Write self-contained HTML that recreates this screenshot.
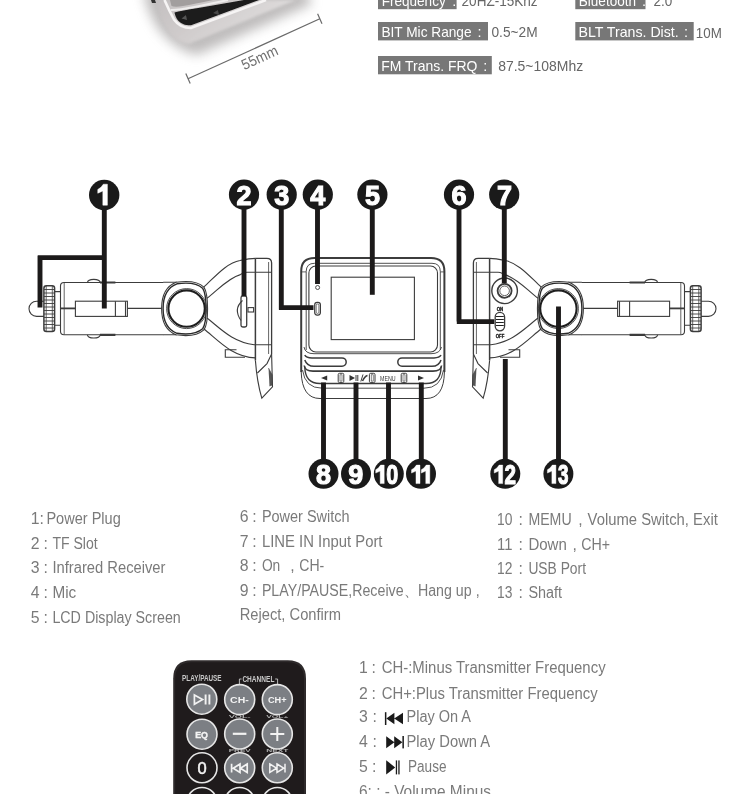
<!DOCTYPE html>
<html><head><meta charset="utf-8">
<style>
html,body{margin:0;padding:0;background:#fff;}
body{width:750px;height:794px;overflow:hidden;position:relative;font-family:"Liberation Sans",sans-serif;}
svg{position:absolute;left:0;top:0;will-change:transform;}
</style></head>
<body>
<svg width="750" height="794" viewBox="0 0 750 794" font-family="Liberation Sans, sans-serif">
<defs>
  <filter id="blur4" x="-50%" y="-50%" width="200%" height="200%"><feGaussianBlur stdDeviation="5"/></filter>
  <filter id="blur1" x="-20%" y="-20%" width="140%" height="140%"><feGaussianBlur stdDeviation="0.6"/></filter>
</defs>

<!-- ===== SPEC LABELS ===== -->
<g id="specs">
  <rect x="378" y="-8.5" width="78.6" height="17.7" fill="#777"/>
  <text x="381.7" y="6.3" font-size="14.5" fill="#fff" textLength="64.0" lengthAdjust="spacingAndGlyphs">Frequency</text>
  <text x="452.2" y="6.3" font-size="14.5" fill="#fff">:</text>
  <text x="461.6" y="6.3" font-size="14.5" fill="#666" textLength="76.0" lengthAdjust="spacingAndGlyphs">20HZ-15Khz</text>
  <rect x="575.3" y="-8.5" width="70.2" height="17.7" fill="#777"/>
  <text x="578.8" y="6.3" font-size="14.5" fill="#fff" textLength="57.2" lengthAdjust="spacingAndGlyphs">Bluetooth</text>
  <text x="641.9" y="6.3" font-size="14.5" fill="#fff">:</text>
  <text x="653.6" y="6.3" font-size="14.5" fill="#666" textLength="18.8" lengthAdjust="spacingAndGlyphs">2.0</text>
  <rect x="378" y="22" width="110" height="18.4" fill="#777"/>
  <text x="381.4" y="37" font-size="14.5" fill="#fff" textLength="90.2" lengthAdjust="spacingAndGlyphs">BIT Mic Range</text>
  <text x="477.5" y="37" font-size="14.5" fill="#fff">:</text>
  <text x="491.5" y="37" font-size="14.5" fill="#666" textLength="46.1" lengthAdjust="spacingAndGlyphs">0.5~2M</text>
  <rect x="575.3" y="22" width="118.4" height="18.4" fill="#777"/>
  <text x="578.5" y="37" font-size="14.5" fill="#fff" textLength="100.2" lengthAdjust="spacingAndGlyphs">BLT Trans. Dist.</text>
  <text x="684.1" y="37" font-size="14.5" fill="#fff">:</text>
  <text x="695.8" y="37.6" font-size="14.5" fill="#666" textLength="26.0" lengthAdjust="spacingAndGlyphs">10M</text>
  <rect x="378" y="56" width="113.8" height="18.3" fill="#777"/>
  <text x="381.3" y="71" font-size="14.5" fill="#fff" textLength="96.2" lengthAdjust="spacingAndGlyphs">FM Trans. FRQ</text>
  <text x="483.2" y="71" font-size="14.5" fill="#fff">:</text>
  <text x="498.2" y="71" font-size="14.5" fill="#666" textLength="85.0" lengthAdjust="spacingAndGlyphs">87.5~108Mhz</text>
</g>

<!-- ===== PHOTO ===== -->
<g id="photo">
  <defs>
    <linearGradient id="bodyG" x1="0" y1="0" x2="1" y2="0.4">
      <stop offset="0" stop-color="#c4c0c1"/>
      <stop offset="0.4" stop-color="#cfcbcb"/>
      <stop offset="1" stop-color="#e2e0e0"/>
    </linearGradient>
    <filter id="shadowF" x="-30%" y="-80%" width="160%" height="260%"><feGaussianBlur stdDeviation="6"/></filter>
    <filter id="soft" x="-10%" y="-10%" width="120%" height="120%"><feGaussianBlur stdDeviation="0.7"/></filter>
    <filter id="bodyBlur" x="-10%" y="-20%" width="120%" height="140%"><feGaussianBlur stdDeviation="1.6"/></filter>
  </defs>
  <path d="M143 -10 C 148 20, 166 48, 197 55 L 312 4 L 306 -10 Z" fill="#8a8686" opacity="0.55" filter="url(#shadowF)"/>
  <path d="M156 0 C 159 14, 163 26, 171 34.5 Q 178 43 189 44 L 296 0 Z" fill="url(#bodyG)" filter="url(#bodyBlur)"/>
  <g filter="url(#soft)">
  <path d="M151 0 L155 0 L156 3 L152 3 Z" fill="#333"/>
  <path d="M164.5 0 C 168 8, 171 14, 174 19.5 Q 180 28 191 28 L 266 0" fill="none" stroke="#f6f4f4" stroke-width="2.6"/>
  <path d="M174.5 12.5 Q 176 20 181 23 Q 185.5 26 191 25.2 L 259 0 L 244 0 L 198.3 8 Q 181 10.8 174.5 12.5 Z" fill="#1a1a1a"/>
    <path d="M181.5 18.5 L 186 15 L 187 20 Z" fill="#555"/>
  <path d="M213 13 L 218 10 L 219 15 Z" fill="#4a4a4a"/>
  <path d="M171.5 6 L 170 0 L 213 0 Q 194 4 183 6 Q 175 7.5 171.5 6 Z" fill="#a29e9e"/>
  <path d="M170.5 10 Q 176 10.5 197 6.5 L 228 0" fill="none" stroke="#efeded" stroke-width="2"/>
  </g>
  <!-- dimension line -->
  <g stroke="#6a6a6a" stroke-width="1.2" fill="none">
    <line x1="188" y1="78.8" x2="319.8" y2="18.8"/>
    <line x1="185.8" y1="73.5" x2="190.2" y2="83.5"/>
    <line x1="317.6" y1="13.8" x2="322" y2="23.8"/>
  </g>
  <text x="0" y="0" font-size="15" fill="#707070" transform="translate(244.2,70.3) rotate(-24.5)" textLength="38.5" lengthAdjust="spacingAndGlyphs">55mm</text>
</g>

<!-- ===== DIAGRAM ===== -->
<g id="diagram" fill="none" stroke="#3c3c3c" stroke-width="1.1">
  <!-- LEFT DEVICE (mirrored for right) -->
  <g id="plugL">
    <path d="M44 301.2 H36.6 A7.6 7.6 0 0 0 36.6 316.4 H44"/>
    <rect x="43.9" y="285.7" width="10.7" height="45.9" rx="2.5" stroke-width="1.5"/>
    <path d="M46.2 286 V331.3 M52.3 286 V331.3" stroke-width="0.8"/>
    <path d="M44 289.5 H54.5 M44 293 H54.5 M44 296.5 H54.5 M44 300 H54.5 M44 303.5 H54.5 M44 307 H54.5 M44 310.5 H54.5 M44 314 H54.5 M44 317.5 H54.5 M44 321 H54.5 M44 324.5 H54.5 M44 328 H54.5" stroke-width="0.9"/>
    <path d="M54.6 291.6 H60.5 M54.6 325.2 H60.5"/>
    <path d="M163.5 282.5 H64 Q60.5 282.5 60.5 286 V331.3 Q60.5 334.8 64 334.8 H163.5"/>
    <path d="M64.2 283 V334.5" stroke-width="0.8"/>
    <path d="M60.5 308.4 H75.4" stroke-width="1.8"/>
    <path d="M127.4 308.4 H163.2" stroke-width="1.4"/>
    <rect x="75.4" y="301.2" width="52" height="15.2"/>
    <path d="M115.4 301.2 V316.4 M125.5 301.2 V316.4"/>
    <path d="M87.4 282.5 C88 278.3 99.6 278.3 100.2 282.5 M87.4 334.8 C88 339 99.6 339 100.2 334.8"/>
    <path d="M100 282.5 H115.4 M100 334.8 H115.4" stroke-width="2.2"/>
    <path d="M163.2 282.3 H177 M163.2 334.8 H177"/>
    <path d="M176 282.3 C 190 280.2, 199 282.5, 203.9 287.1 C 208.6 294, 209 323, 203.9 329.9 C 199 334.3, 190 337, 176 334.8 C 165.5 330.5, 161.6 320.5, 161.6 308.5 C 161.6 296.5, 165.5 286.5, 176 282.3 Z" fill="#fff" stroke-width="1.1"/>
    <path d="M177 283.8 C 190 282, 198 284, 202.6 288.2 C 207 295, 207.4 322, 202.6 328.8 C 198 332.8, 190 335.3, 177 333.3 C 167 329.5, 163.1 320, 163.1 308.5 C 163.1 297, 167 287.5, 177 283.8 Z" stroke-width="1.4" stroke="#2a2a2a"/>
    <circle cx="186.6" cy="308.6" r="20" stroke-width="0.9"/>
    <circle cx="186.6" cy="308.6" r="18.2" stroke-width="2.1" stroke="#1e1e1e"/>
    <path d="M203.7 287.1 C214 278 226 263 240 260.5 C246 259.2 250 258.4 255.4 258.4"/>
    <path d="M207 298.3 C218 290 228 278 240.4 274.6 C243 273.5 244 272.2 247 272.2 H271.6"/>
    <path d="M207 318 C220 328 232 342 254.2 344.7 H271.8"/>
    <path d="M203.7 328.7 C218 340 232 357 255.5 357.9"/>
    <path d="M236.5 349.7 H225.3 V357.3 H245"/>
    <!-- panel -->
    <path d="M255.4 258.4 V360.4" stroke-width="1.5"/>
    <path d="M255.4 258.4 H266.8 Q271.6 258.4 271.6 263 V354" stroke-width="1.3"/>
    <path d="M268.6 262 V354" stroke-width="0.8"/>
    <path d="M255.4 360.4 Q257 382 261.8 398.2 L272.5 386.9 L271.6 354"/>
    <path d="M257.4 373 L267 363.6 L271.6 354"/>
    <path d="M268.5 368 L272.2 375 L272.3 385 L269.5 386" fill="#555" stroke-width="0.6"/>
  </g>
  <!-- TF slot -->
  <rect x="241" y="296" width="5.7" height="31" rx="1.8" stroke-width="1.3"/>
  <path d="M242.5 300.5 Q233 309 241 320.5"/>
  <rect x="248" y="307.6" width="5.6" height="4.4"/>

  <g transform="translate(745,0) scale(-1,1)">
    <use href="#plugL"/>
  </g>
  <!-- jack -->
  <circle cx="504.6" cy="290.8" r="12.8" fill="#fff" stroke-width="1.4"/>
  <circle cx="504.6" cy="290.8" r="7" stroke-width="1.8"/>
  <circle cx="504.6" cy="290.8" r="4.8" stroke-width="0.8"/>
  <!-- switch -->
  <rect x="495.2" y="312.4" width="9.4" height="18.4" rx="4.7" stroke-width="1.3"/>
  <path d="M496 316.5 H503.8 M496 319.5 H503.8 M496 322.5 H503.8 M496 325.5 H503.8" stroke-width="1.1" stroke="#222"/>
  <text x="500" y="310.6" font-size="5" font-weight="bold" fill="#222" stroke="#222" stroke-width="0.35" text-anchor="middle" textLength="6.5" lengthAdjust="spacingAndGlyphs">ON</text>
  <text x="500" y="337.6" font-size="5" font-weight="bold" fill="#222" stroke="#222" stroke-width="0.35" text-anchor="middle" textLength="8.5" lengthAdjust="spacingAndGlyphs">OFF</text>

  <!-- CENTER DEVICE -->
  <path d="M301.2 372 V271.3 Q301.2 258 314.5 258 H431 Q444.4 258 444.4 271.3 V372" stroke-width="2"/>
  <path d="M301.2 372 Q302 398.5 320 398.5 H426 Q444 398.5 444.4 372" stroke-width="1"/>
  <path d="M306.2 350 V271.5 Q306.2 263.3 314.5 263.3 H432 Q440.3 263.3 440.3 271.5 V350" stroke-width="0.9"/>
  <path d="M301.2 271.9 H306.2 M440.3 271.9 H444.4" stroke-width="0.8"/>
  <rect x="308.9" y="266" width="128.6" height="86" rx="7" stroke-width="1.1"/>
  <rect x="331.2" y="277.2" width="83.2" height="62.4" stroke-width="1.1"/>
  <path d="M304 347 Q305 353.7 314 353.7 H431 Q440 353.7 441.5 347" stroke-width="0.9"/>
  <!-- mic & IR -->
  <circle cx="317.6" cy="287.5" r="2" stroke-width="0.9"/>
  <rect x="314.7" y="302.3" width="5.7" height="12.8" rx="2.5" stroke-width="1.2"/>
  <rect x="316.2" y="304" width="2.7" height="9.4" rx="1.2" stroke-width="0.7"/>
  <!-- slots -->
  <path d="M304.8 355 Q306 357.9 312 357.9 H342 A4.2 4.2 0 0 1 342 366.3 H314 Q307 366.3 304.8 360" stroke-width="1.5"/>
  <path d="M441 355 Q439.5 357.9 434 357.9 H402 A4.2 4.2 0 0 0 402 366.3 H432 Q439 366.3 441 360" stroke-width="1.5"/>
  <!-- button strip -->
  <path d="M304.2 365.5 Q305 371.1 313 371.1 H433 Q441 371.1 441.6 365.5" stroke-width="1.6"/>
  <path d="M304.8 366.7 Q305 383.5 320 383.5 H426 Q441 383.5 441 366.7" stroke-width="1.4"/>
  <path d="M302.5 370 Q305 388.2 322 388.2 H424 Q441 388.2 443.5 370" stroke-width="0.9"/>
  <g fill="#333" stroke="none">
    <path d="M321 378 L327.2 375.6 V380.4 Z"/>
    <path d="M349.5 375 L355 378 L349.5 381 Z"/>
    <path d="M424 378 L418 375.6 V380.4 Z"/>
  </g>
  <g stroke-width="1">
  <rect x="338.2" y="373.3" width="5.6" height="9.3" rx="1.3"/>
  <rect x="340" y="374.8" width="2" height="6.3" stroke-width="0.6"/>
  <rect x="369.4" y="373.3" width="5.6" height="9.3" rx="1.3"/>
  <rect x="371.2" y="374.8" width="2" height="6.3" stroke-width="0.6"/>
  <rect x="401.2" y="373.3" width="5.6" height="9.3" rx="1.3"/>
  <rect x="403" y="374.8" width="2" height="6.3" stroke-width="0.6"/>
  </g>
  <path d="M356 375 V381 M357.8 375 V381 M360.8 381.5 L363 374.5" stroke-width="1"/>
  <path d="M362.5 381 Q365 376 367.5 375.5" stroke-width="1.6"/>
  <text x="387.9" y="380.6" font-size="7.2" fill="#3a3a3a" stroke="none" text-anchor="middle" textLength="15.6" lengthAdjust="spacingAndGlyphs">MENU</text>
</g>

<!-- ===== LEADERS ===== -->
<g id="leaders" stroke="#1c1a1a" stroke-width="4.9" fill="none" stroke-linecap="butt">
  <path d="M104.3 205 V308.4 M38 257.6 H106.5 M40 255.5 V307.6"/>
  <path d="M244 205 V296"/>
  <path d="M281.3 205 V309.8 M279.1 307.6 H313.5"/>
  <path d="M317.5 205 V284"/>
  <path d="M372.3 205 V294.8"/>
  <path d="M459 205 V321.6 M456.8 321.6 H494.3"/>
  <path d="M504.3 205 V283.3"/>
  <path d="M323.5 382.4 V465 M356 382.4 V465 M388.5 382.4 V465 M421.3 382.4 V465"/>
  <path d="M505.3 359 V465"/>
  <path d="M558.5 306.5 V465"/>
</g>

<!-- ===== CALLOUTS ===== -->
<g id="callouts">
  <g fill="#1a1a1a">
    <circle cx="104.2" cy="195" r="15.2"/>
    <circle cx="244" cy="194.6" r="15.1"/>
    <circle cx="281.7" cy="194.6" r="15.1"/>
    <circle cx="317.8" cy="194.6" r="15.1"/>
    <circle cx="372.4" cy="194.6" r="15.1"/>
    <circle cx="459" cy="194.6" r="15.1"/>
    <circle cx="504.2" cy="194.6" r="15.1"/>
    <circle cx="323.5" cy="473.8" r="15"/>
    <circle cx="356" cy="473.8" r="15"/>
    <circle cx="388.8" cy="473.8" r="15"/>
    <circle cx="421" cy="473.8" r="15"/>
    <circle cx="505.3" cy="473.8" r="15"/>
    <circle cx="558.4" cy="473.8" r="15"/>
  </g>
  <g fill="#fff" stroke="#fff" stroke-width="1.1" font-family="Liberation Sans, sans-serif" font-weight="bold" font-size="27" text-anchor="middle">
    <text x="244" y="204.6">2</text>
    <text x="281.7" y="204.6">3</text>
    <text x="317.8" y="204.6">4</text>
    <text x="372.4" y="204.6">5</text>
    <text x="459" y="204.6">6</text>
    <text x="504.4" y="204.6">7</text>
    <text x="323.5" y="484">8</text>
    <text x="355.8" y="484">9</text>
    <text x="392.3" y="483.6" textLength="12" lengthAdjust="spacingAndGlyphs">0</text>
    <text x="510.2" y="483.6" textLength="11.5" lengthAdjust="spacingAndGlyphs">2</text>
    <text x="563.2" y="483.6" textLength="10.5" lengthAdjust="spacingAndGlyphs">3</text>
  </g>
  <g fill="#fff" stroke="#fff" stroke-width="0.5">
    <path transform="translate(107.4,205.2) scale(0.972)" d="M0 0 H-4.7 V-14.6 L-9.9 -12.3 V-16.2 Q-6.3 -17.8 -4.2 -21.6 H0 Z"/>
    <path transform="translate(384.2,483.6) scale(0.856)" d="M0 0 H-4.7 V-14.6 L-9.9 -12.3 V-16.2 Q-6.3 -17.8 -4.2 -21.6 H0 Z"/>
    <path transform="translate(420,483.6) scale(0.856)" d="M0 0 H-4.7 V-14.6 L-9.9 -12.3 V-16.2 Q-6.3 -17.8 -4.2 -21.6 H0 Z"/>
    <path transform="translate(429.8,483.6) scale(0.856)" d="M0 0 H-4.7 V-14.6 L-9.9 -12.3 V-16.2 Q-6.3 -17.8 -4.2 -21.6 H0 Z"/>
    <path transform="translate(502.7,483.6) scale(0.856)" d="M0 0 H-4.7 V-14.6 L-9.9 -12.3 V-16.2 Q-6.3 -17.8 -4.2 -21.6 H0 Z"/>
    <path transform="translate(555.9,483.6) scale(0.856)" d="M0 0 H-4.7 V-14.6 L-9.9 -12.3 V-16.2 Q-6.3 -17.8 -4.2 -21.6 H0 Z"/>
  </g>
</g>

<!-- ===== LEGEND ===== -->
<g id="legend" font-size="15.8" fill="#7a7a7a">
  <text x="30.8" y="524.2">1:</text>
  <text x="46.4" y="524.2" textLength="74.4" lengthAdjust="spacingAndGlyphs">Power Plug</text>
  <text x="30.8" y="549.2">2</text>
  <text x="43.6" y="549.2">:</text>
  <text x="52.4" y="549.2" textLength="45.3" lengthAdjust="spacingAndGlyphs">TF Slot</text>
  <text x="30.8" y="573.3">3</text>
  <text x="43.6" y="573.3">:</text>
  <text x="52.4" y="573.3" textLength="113.1" lengthAdjust="spacingAndGlyphs">Infrared Receiver</text>
  <text x="30.8" y="598">4</text>
  <text x="43.6" y="598">:</text>
  <text x="52.4" y="598" textLength="23.8" lengthAdjust="spacingAndGlyphs">Mic</text>
  <text x="30.8" y="622.5">5</text>
  <text x="43.6" y="622.5">:</text>
  <text x="52.4" y="622.5" textLength="128.4" lengthAdjust="spacingAndGlyphs">LCD Display Screen</text>
  <text x="239.7" y="521.5">6</text>
  <text x="252.3" y="521.5">:</text>
  <text x="261.9" y="521.5" textLength="87.7" lengthAdjust="spacingAndGlyphs">Power Switch</text>
  <text x="239.7" y="546.8">7</text>
  <text x="252.3" y="546.8">:</text>
  <text x="261.9" y="546.8" textLength="120.6" lengthAdjust="spacingAndGlyphs">LINE IN Input Port</text>
  <text x="239.7" y="571">8</text>
  <text x="252.3" y="571">:</text>
  <text x="261.9" y="571" textLength="18.4" lengthAdjust="spacingAndGlyphs">On</text>
  <text x="290.3" y="571">,</text>
  <text x="299.3" y="571" textLength="25" lengthAdjust="spacingAndGlyphs">CH-</text>
  <text x="239.7" y="596.4">9</text>
  <text x="252.3" y="596.4">:</text>
  <text x="261.9" y="596.4" textLength="217.7" lengthAdjust="spacingAndGlyphs">PLAY/PAUSE,Receive、Hang up ,</text>
  <text x="239.7" y="619.6" textLength="101.3" lengthAdjust="spacingAndGlyphs">Reject, Confirm</text>
  <text x="497" y="525" textLength="15.4" lengthAdjust="spacingAndGlyphs">10</text>
  <text x="518.4" y="525">:</text>
  <text x="528.4" y="525" textLength="43.2" lengthAdjust="spacingAndGlyphs">MEMU</text>
  <text x="578.2" y="525">,</text>
  <text x="587.6" y="525" textLength="130.2" lengthAdjust="spacingAndGlyphs">Volume Switch, Exit</text>
  <text x="497" y="549.6" textLength="15.4" lengthAdjust="spacingAndGlyphs">11</text>
  <text x="518.4" y="549.6">:</text>
  <text x="528.4" y="549.6" textLength="38.4" lengthAdjust="spacingAndGlyphs">Down</text>
  <text x="572.4" y="549.6">,</text>
  <text x="581.2" y="549.6" textLength="28.8" lengthAdjust="spacingAndGlyphs">CH+</text>
  <text x="497" y="573.6" textLength="15.4" lengthAdjust="spacingAndGlyphs">12</text>
  <text x="518.4" y="573.6">:</text>
  <text x="528.4" y="573.6" textLength="57.6" lengthAdjust="spacingAndGlyphs">USB Port</text>
  <text x="497" y="597.6" textLength="15.4" lengthAdjust="spacingAndGlyphs">13</text>
  <text x="518.4" y="597.6">:</text>
  <text x="528.4" y="597.6" textLength="33.6" lengthAdjust="spacingAndGlyphs">Shaft</text>
  <text x="359" y="673.4">1</text>
  <text x="371.5" y="673.4">:</text>
  <text x="381.7" y="673.4" textLength="223.9" lengthAdjust="spacingAndGlyphs">CH-:Minus Transmitter Frequency</text>
  <text x="359" y="698.6">2</text>
  <text x="371.5" y="698.6">:</text>
  <text x="381.7" y="698.6" textLength="215.9" lengthAdjust="spacingAndGlyphs">CH+:Plus Transmitter Frequency</text>
  <text x="359" y="722">3</text><text x="372.6" y="722">:</text>
  <text x="406.5" y="722" textLength="64.5" lengthAdjust="spacingAndGlyphs">Play On A</text>
  <text x="359" y="747">4</text><text x="372.6" y="747">:</text>
  <text x="406.5" y="747" textLength="83.6" lengthAdjust="spacingAndGlyphs">Play Down A</text>
  <text x="359" y="771.6">5</text><text x="372" y="771.6">:</text>
  <text x="408" y="771.6" textLength="38.5" lengthAdjust="spacingAndGlyphs">Pause</text>
  <g fill="#1a1a1a" stroke="none">
    <rect x="384.9" y="712.2" width="1.5" height="12.8"/>
    <path d="M386.3 718.5 L394.4 712.8 V724.2 Z M394.2 718.5 L403 712.8 V724.2 Z"/>
    <path d="M386.2 736.2 L394.4 742.2 L386.2 748.2 Z M394.2 736.2 L402.4 742.2 L394.2 748.2 Z"/>
    <rect x="402.4" y="736" width="1.5" height="12.4"/>
    <path d="M386.2 760.2 L395.2 767.4 L386.2 774.6 Z"/>
    <rect x="395.8" y="760.4" width="1.3" height="14"/>
    <rect x="398.3" y="760.4" width="1.3" height="14"/>
  </g>
  <text x="359" y="796.5" textLength="132" lengthAdjust="spacingAndGlyphs">6: : - Volume Minus</text>
</g>

<!-- ===== REMOTE ===== -->
<g id="remote">
  <path d="M173.2 800 V678.5 Q173.2 660.2 191.5 660.2 H287.8 Q306 660.2 306 678.5 V800 Z" fill="#2e2a2b"/>
  <path d="M175.2 800 V679 Q175.2 662.2 192 662.2 H287.3 Q304 662.2 304 679 V800 Z" fill="#1f1b1c"/>
  <g font-family="Liberation Sans, sans-serif" font-weight="bold" fill="#c9c9c9">
    <text x="182" y="681.4" font-size="8.3" textLength="39.6" lengthAdjust="spacingAndGlyphs">PLAY/PAUSE</text>
    <text x="242.4" y="681.5" font-size="8.5" textLength="32" lengthAdjust="spacingAndGlyphs">CHANNEL</text>
  </g>
  <path d="M239.4 684.5 V679 H241.6 M277.6 684.5 V679 H275.2" fill="none" stroke="#c9c9c9" stroke-width="0.9"/>
  <g font-family="Liberation Sans, sans-serif" font-weight="bold" fill="#b0b0b0" font-size="5" text-anchor="middle">
    <text x="0" y="0" transform="translate(239.7,717.6) scale(1,0.72)" textLength="22" lengthAdjust="spacingAndGlyphs">VOL-</text>
    <text x="0" y="0" transform="translate(277.3,717.6) scale(1,0.72)" textLength="22" lengthAdjust="spacingAndGlyphs">VOL+</text>
    <text x="0" y="0" transform="translate(239.7,751.8) scale(1,0.72)" textLength="22" lengthAdjust="spacingAndGlyphs">PREV</text>
    <text x="0" y="0" transform="translate(277.3,751.8) scale(1,0.72)" textLength="22" lengthAdjust="spacingAndGlyphs">NEXT</text>
  </g>
  <g stroke="#e6e6e6" stroke-width="1.6" fill="#7c7f84">
    <circle cx="201.8" cy="699.2" r="15"/>
    <circle cx="239.7" cy="699.6" r="15"/>
    <circle cx="277.3" cy="699.6" r="15"/>
    <circle cx="202" cy="734.2" r="15"/>
    <circle cx="239.7" cy="734" r="15"/>
    <circle cx="277.3" cy="734" r="15"/>
    <circle cx="202" cy="767.8" r="15" fill="#1f1b1c"/>
    <circle cx="239.7" cy="767.8" r="15"/>
    <circle cx="277.3" cy="767.8" r="15"/>
    <circle cx="202" cy="802.5" r="15" fill="#1f1b1c"/>
    <circle cx="239.7" cy="802.5" r="15" fill="#1f1b1c"/>
    <circle cx="277.3" cy="802.5" r="15" fill="#1f1b1c"/>
  </g>
  <g fill="none" stroke="#f2f2f2">
    <path d="M194.4 695 L202.6 699.6 L194.4 704.2 Z" stroke-width="1.7"/>
    <path d="M205.6 694.6 V704.6 M209.4 694.6 V704.6" stroke-width="1.9"/>
    <path d="M232.8 733.8 H246.4" stroke-width="2.2"/>
    <path d="M270.3 734 H284.3 M277.3 727 V741" stroke-width="2"/>
    <path d="M231.6 763.8 V772.6 M240 764 L233.2 768.2 L240 772.4 Z M247.2 764 L240.4 768.2 L247.2 772.4 Z" stroke-width="1.7"/>
    <path d="M285 763.8 V772.6 M277 764 L283.8 768.2 L277 772.4 Z M269.8 764 L276.6 768.2 L269.8 772.4 Z" stroke-width="1.5"/>
  </g>
  <g font-family="Liberation Sans, sans-serif" font-weight="bold" fill="#f4f4f4" text-anchor="middle">
    <text x="239.4" y="703" font-size="9" textLength="18.6" lengthAdjust="spacingAndGlyphs">CH-</text>
    <text x="277.2" y="703" font-size="9" textLength="18.6" lengthAdjust="spacingAndGlyphs">CH+</text>
    <text x="201.6" y="737.6" font-size="8.6" stroke="#f4f4f4" stroke-width="0.35" textLength="12.8" lengthAdjust="spacingAndGlyphs">EQ</text>
  </g>
  <text x="202" y="774.2" font-family="Liberation Sans, sans-serif" font-size="16.5" fill="#f4f4f4" stroke="#f4f4f4" stroke-width="0.5" text-anchor="middle">0</text>
</g>
</svg>
</body></html>
